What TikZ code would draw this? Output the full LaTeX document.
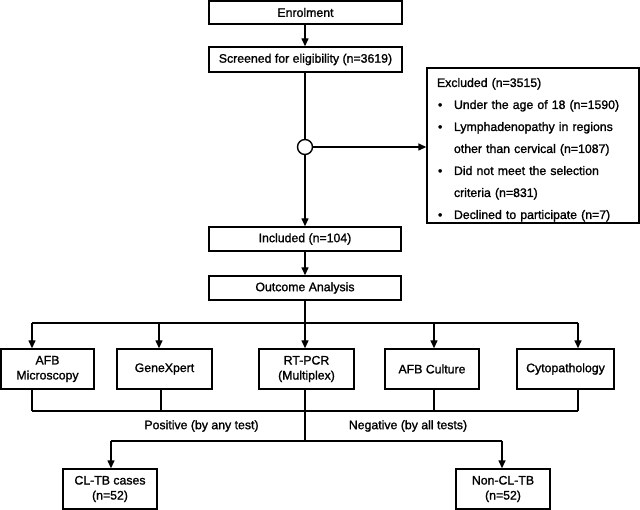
\documentclass[tikz,border=0pt]{standalone}
\usepackage{fontspec}
\setmainfont{Liberation Sans}
\newfontfamily\heavy{Liberation Sans}[FakeBold=1.3]
\usetikzlibrary{arrows.meta}
\tikzset{
  boxn/.style={draw, line width=1.4pt, inner sep=0pt, align=center, font=\heavy\fontsize{12.3}{15}\selectfont},
  ln/.style={line width=1.4pt},
  arr/.style={line width=1.4pt, -{Triangle[length=8pt,width=7pt]}},
  lbl/.style={font=\heavy\fontsize{12.3}{15}\selectfont, inner sep=0pt}
}
\begin{document}
\begin{tikzpicture}[x=1pt,y=-1pt]
\useasboundingbox (0,0) rectangle (640,510);
% top column
\node[boxn, minimum width=193pt, minimum height=23pt] (enrol) at (305.5,12.5) {Enrolment};
\node[boxn, minimum width=193pt, minimum height=25pt] (screen) at (305.5,59.5) {Screened for eligibility (n=3619)};
\node[draw, line width=1.4pt, fill=white, circle, minimum size=15pt, inner sep=0pt] (circ) at (305,147) {};
\node[boxn, minimum width=192pt, minimum height=24pt] (incl) at (305,239) {Included (n=104)};
\node[boxn, minimum width=192pt, minimum height=24pt] (outc) at (305,288) {Outcome Analysis};
\node[draw, line width=1.4pt, minimum width=212pt, minimum height=155pt, inner xsep=10pt, inner ysep=0pt,
      text width=192pt, align=left, font=\heavy\fontsize{12.3}{22}\selectfont] (excl) at (533,145.5)
  {\rule{0pt}{17.5pt}Excluded (n=3515)\\
   \hspace*{1pt}\makebox[16pt][l]{\textbullet}Under the age of 18 (n=1590)\\
   \hspace*{1pt}\makebox[16pt][l]{\textbullet}Lymphadenopathy in regions\\
   \hspace*{17pt}other than cervical (n=1087)\\
   \hspace*{1pt}\makebox[16pt][l]{\textbullet}Did not meet the selection\\
   \hspace*{17pt}criteria (n=831)\\
   \hspace*{1pt}\makebox[16pt][l]{\textbullet}Declined to participate (n=7)};
% tests
\node[boxn, minimum width=93pt, minimum height=40pt] (afbm) at (47.5,369) {AFB\\Microscopy};
\node[boxn, minimum width=95pt, minimum height=40pt] (gx) at (164.5,369) {GeneXpert};
\node[boxn, minimum width=95pt, minimum height=40pt] (rt) at (306.5,369) {RT-PCR\\(Multiplex)};
\node[boxn, minimum width=94pt, minimum height=40pt] (afbc) at (432,369) {AFB Culture};
\node[boxn, minimum width=97pt, minimum height=40pt] (cyto) at (565.5,369) {Cytopathology};
% outcomes
\node[boxn, minimum width=94pt, minimum height=40pt] (cltb) at (110,489) {CL-TB cases\\(n=52)};
\node[boxn, minimum width=94pt, minimum height=40pt] (ncl) at (503,489) {Non-CL-TB\\(n=52)};
% labels
\node[lbl] (pos) at (201.5,426) {Positive (by any test)};
\node[lbl] (neg) at (408,426) {Negative (by all tests)};
% coordinates
\coordinate (t1) at (32,323);
\coordinate (t2) at (159,323);
\coordinate (t4) at (434,323);
\coordinate (t5) at (578,323);
\coordinate (b1) at (32,411);
\coordinate (b2) at (161,411);
\coordinate (b4) at (434,411);
\coordinate (b5) at (578,411);
\coordinate (m) at (305,441);
\coordinate (l) at (111,441);
\coordinate (r) at (502,441);
% connectors
\draw[arr] (enrol.south -| 305,0) -- (screen.north -| 305,0);
\draw[ln] (screen.south -| circ) -- (circ.north);
\draw[arr] (circ.south) -- (incl.north -| circ);
\draw[arr] (circ.east) -- (circ.east -| excl.west);
\draw[arr] (incl.south -| circ) -- (outc.north -| circ);
\draw[arr] (outc.south -| circ) -- (rt.north -| circ);
\draw[ln] (t1) -- (t5);
\draw[arr] (t1) -- (t1 |- afbm.north);
\draw[arr] (t2) -- (t2 |- gx.north);
\draw[arr] (t4) -- (t4 |- afbc.north);
\draw[arr] (t5) -- (t5 |- cyto.north);
\draw[ln] (b1 |- afbm.south) -- (b1);
\draw[ln] (b2 |- gx.south) -- (b2);
\draw[ln] (b4 |- afbc.south) -- (b4);
\draw[ln] (b5 |- cyto.south) -- (b5);
\draw[ln] (b1) -- (b5);
\draw[ln] (m |- rt.south) -- (m);
\draw[ln] (l) -- (r);
\draw[arr] (l) -- (l |- cltb.north);
\draw[arr] (r) -- (r |- ncl.north);
\end{tikzpicture}
\end{document}
